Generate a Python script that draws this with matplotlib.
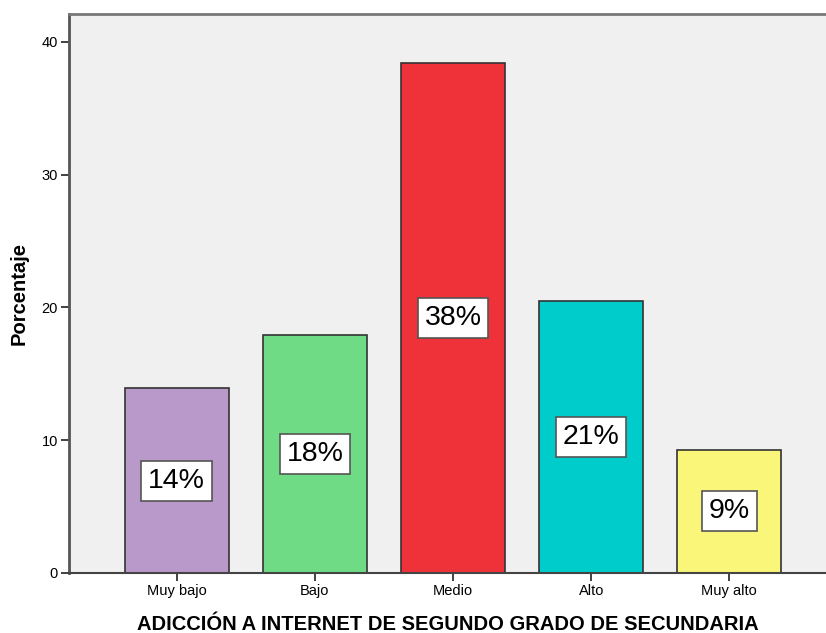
import matplotlib.pyplot as plt

plt.rcParams['font.family'] = ['Liberation Sans', 'DejaVu Sans']

categorias = ["Muy bajo", "Bajo", "Medio", "Alto", "Muy alto"]
porcentajes = [13.9, 17.9, 38.4, 20.5, 9.3]
etiquetas = ["14%", "18%", "38%", "21%", "9%"]
colores = ["#B899C9", "#6FDB84", "#EF3239", "#00CCCC", "#F9F67A"]
yticks = [0, 10, 20, 30, 40]

fig = plt.figure(figsize=(8.26, 6.33), dpi=100)
ax = fig.add_axes([69 / 826, 1 - 573 / 633, 1 - 69 / 826, (573 - 14) / 633])
ax.set_facecolor("#F0F0F0")

xs = range(len(categorias))
ax.bar(xs, porcentajes, width=0.754, color=colores, edgecolor="#333333", linewidth=1.2, zorder=2)

for x, v, t in zip(xs, porcentajes, etiquetas):
    ax.text(x, v / 2, t, ha="center", va="center", fontsize=20.5, zorder=3,
            bbox=dict(boxstyle="square,pad=0.24", facecolor="white", edgecolor="#555555", linewidth=1.2))

ax.set_xlim(-0.78, 4.70)
ax.set_ylim(0, 42.1)
ax.set_xticks(list(xs))
ax.set_xticklabels(categorias, fontsize=10.5)
ax.set_yticks(yticks)
ax.set_yticklabels([str(v) for v in yticks], fontsize=10.5)
ax.tick_params(axis="both", direction="out", length=6, width=1.3, color="#333333", pad=2)

ax.spines["right"].set_visible(False)
ax.spines["left"].set_color("#555555")
ax.spines["left"].set_linewidth(2)
ax.spines["bottom"].set_color("#444444")
ax.spines["bottom"].set_linewidth(1.5)
ax.spines["top"].set_color("#777777")
ax.spines["top"].set_linewidth(2)

ax.set_xlabel("ADICCIÓN A INTERNET DE SEGUNDO GRADO DE SECUNDARIA", fontsize=14.5, fontweight="bold", labelpad=12)
ax.set_ylabel("Porcentaje", fontsize=14.5, fontweight="bold", labelpad=9)

fig.savefig("out.png", dpi=100)
